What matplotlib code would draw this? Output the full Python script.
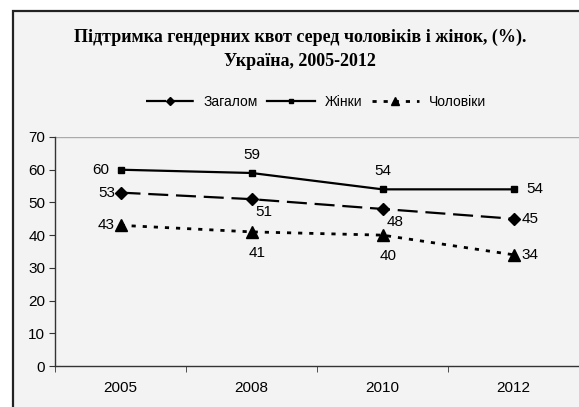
import matplotlib.pyplot as plt
from matplotlib.patches import Rectangle

years = ["2005", "2008", "2010", "2012"]
total = [53, 51, 48, 45]
women = [60, 59, 54, 54]
men = [43, 41, 40, 34]

BG = "#f3f3f3"

plt.rcParams["font.family"] = ["Liberation Sans", "DejaVu Sans"]

fig = plt.figure(figsize=(5.79, 4.07), dpi=100)
fig.patch.set_facecolor("white")

# outer chart frame (cropped on the right and bottom)
frame = Rectangle((13 / 579, -0.05), 1.1, 1 - 11 / 407 + 0.05, transform=fig.transFigure,
                  facecolor=BG, edgecolor="#222222", linewidth=1.6, zorder=-5)
fig.patches.append(frame)

ax = fig.add_axes([55 / 579, 1 - 366 / 407, 1 - 55 / 579, (366 - 137) / 407])
ax.set_facecolor(BG)
ax.set_zorder(2)

x = list(range(len(years)))
ax.plot(x, total, color="black", lw=1.6, dashes=(9, 3.5), marker="D", markersize=6.5,
        label="Загалом", zorder=3)
ax.plot(x, women, color="black", lw=1.6, marker="s", markersize=4.5,
        label="Жінки", zorder=3)
ax.plot(x, men, color="black", lw=2.0, dashes=(1.5, 2.5), marker="^", markersize=8,
        label="Чоловіки", zorder=3)

ax.set_xlim(-0.5, len(years) - 0.5)
ax.set_ylim(0, 70)
ax.set_yticks(range(0, 71, 10))
ax.set_xticks(x)
ax.set_xticklabels(years)
ax.set_xticks([i + 0.5 for i in range(-1, len(years) - 1)], minor=True)
ax.tick_params(axis="x", which="major", length=0, pad=11, labelsize=11)
ax.tick_params(axis="x", which="minor", length=4, direction="out", color="#333333")
ax.tick_params(axis="y", length=4, direction="out", labelsize=11, pad=3, color="#333333")
ax.axhline(70, color="#aaaaaa", lw=1.0)
for s in ["top", "right"]:
    ax.spines[s].set_visible(False)
for s in ["left", "bottom"]:
    ax.spines[s].set_color("#333333")
    ax.spines[s].set_linewidth(1.0)

fs = 11
# value labels
for i, v in enumerate(women):
    if i == 0:
        ax.annotate(str(v), (i, v), xytext=(-8, 0), textcoords="offset points", ha="right", va="center", fontsize=fs)
    elif i == len(years) - 1:
        ax.annotate(str(v), (i, v), xytext=(9, 0), textcoords="offset points", ha="left", va="center", fontsize=fs)
    else:
        ax.annotate(str(v), (i, v), xytext=(0, 8), textcoords="offset points", ha="center", va="bottom", fontsize=fs)
for i, v in enumerate(total):
    if i == 0:
        ax.annotate(str(v), (i, v), xytext=(-4, 0), textcoords="offset points", ha="right", va="center", fontsize=fs)
    elif i == len(years) - 1:
        ax.annotate(str(v), (i, v), xytext=(6, 0), textcoords="offset points", ha="left", va="center", fontsize=fs)
    else:
        ax.annotate(str(v), (i, v), xytext=(3, -4), textcoords="offset points", ha="left", va="top", fontsize=fs)
for i, v in enumerate(men):
    if i == 0:
        ax.annotate(str(v), (i, v), xytext=(-4, 0), textcoords="offset points", ha="right", va="center", fontsize=fs)
    elif i == len(years) - 1:
        ax.annotate(str(v), (i, v), xytext=(6, 0), textcoords="offset points", ha="left", va="center", fontsize=fs)
    else:
        ax.annotate(str(v), (i, v), xytext=(4, -10), textcoords="offset points", ha="center", va="top", fontsize=fs)

fig.text(0.518, 1 - 37 / 407, "Підтримка гендерних квот серед чоловіків і жінок, (%).",
         ha="center", va="center", fontsize=13, fontweight="bold", family="Liberation Serif")
fig.text(0.518, 1 - 62 / 407, "Україна, 2005-2012",
         ha="center", va="center", fontsize=13, fontweight="bold", family="Liberation Serif")

fig.legend(loc="center", bbox_to_anchor=(0.546, 1 - 102 / 407), ncol=3, frameon=False,
           fontsize=10, handlelength=3.4, handletextpad=0.7, columnspacing=0.7, markerscale=0.7)

fig.savefig("out.png", dpi=100, facecolor=fig.get_facecolor())
